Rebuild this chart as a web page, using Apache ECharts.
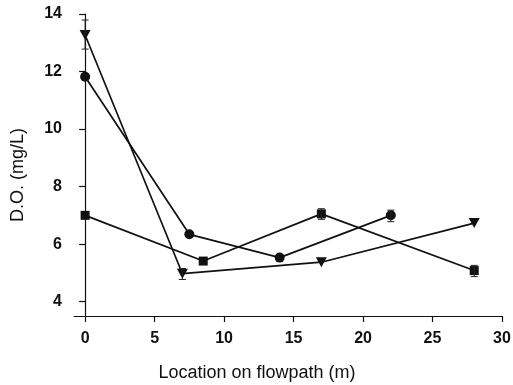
<!DOCTYPE html>
<html><head><meta charset="utf-8">
<script src="https://cdn.jsdelivr.net/npm/echarts@6/dist/echarts.min.js"></script>
<style>html,body{margin:0;padding:0;background:#fff}#c{width:513px;height:385px}</style>
</head><body><div id="c"></div>
<script>
const xTicks = [0, 5, 10, 15, 20, 25, 30];
const yTicks = [4, 6, 8, 10, 12, 14];
const triX = [0, 7, 17, 28];
const triY = [13.27, 4.97, 5.37, 6.73];
const cirX = [0, 7.5, 14, 22];
const cirY = [11.82, 6.34, 5.53, 7.0];
const sqX = [0, 8.5, 17, 28];
const sqY = [7.0, 5.41, 7.05, 5.08];
// error bars: [x, low, high]
const errTri = [[0, 12.78, 13.79], [7, 4.77, 5.15]];
const errCir = [[22, 6.78, 7.18]];
const errSq = [[17, 6.86, 7.23], [28, 4.87, 5.26]];

const zip = (xs, ys) => xs.map((x, i) => [x, ys[i]]);
const ink = '#111';
const font = 'Liberation Sans, Arial, Helvetica, sans-serif';

function errRender(params, api) {
  const x = api.value(0), lo = api.value(1), hi = api.value(2);
  const p1 = api.coord([x, lo]), p2 = api.coord([x, hi]);
  const w = 3.5;
  const st = { stroke: '#222', lineWidth: 1 };
  return { type: 'group', children: [
    { type: 'line', shape: { x1: p1[0], y1: p1[1], x2: p2[0], y2: p2[1] }, style: st },
    { type: 'line', shape: { x1: p1[0] - w, y1: p1[1], x2: p1[0] + w, y2: p1[1] }, style: st },
    { type: 'line', shape: { x1: p2[0] - w, y1: p2[1], x2: p2[0] + w, y2: p2[1] }, style: st }
  ]};
}
function lineSeries(data, symbol, size, rot) {
  return { type: 'line', data, symbol, symbolSize: size, symbolRotate: rot || 0,
    showAllSymbol: true, lineStyle: { color: ink, width: 1.7 },
    itemStyle: { color: ink, borderWidth: 0 }, z: 3 };
}
function errSeries(data) {
  return { type: 'custom', data, renderItem: errRender, encode: { x: 0, y: [1, 2] }, z: 4, silent: true };
}

const chart = echarts.init(document.getElementById('c'));
chart.setOption({
  animation: false,
  backgroundColor: '#fff',
  grid: { left: 74, right: 11, top: 14, bottom: 69, containLabel: false, outerBoundsMode: 'none' },
  xAxis: {
    type: 'value', min: -0.8, max: 30,
    axisLine: { lineStyle: { color: ink, width: 1.2 } },
    axisTick: { customValues: xTicks, length: 6, lineStyle: { color: ink, width: 1.2 } },
    axisLabel: { customValues: xTicks, margin: 15, color: ink, fontSize: 16, fontWeight: 'bold', fontFamily: font },
    splitLine: { show: false },
    name: 'Location on flowpath (m)', nameLocation: 'middle', nameGap: 48,
    nameTextStyle: { color: ink, fontSize: 18, fontFamily: font, padding: [0, 62, 0, 0] }
  },
  yAxis: {
    type: 'value', min: 3.5, max: 14,
    axisLine: { show: true, lineStyle: { color: ink, width: 1.2 } },
    axisTick: { show: true, customValues: yTicks, length: 6, lineStyle: { color: ink, width: 1.2 } },
    axisLabel: { customValues: yTicks, margin: 12, color: ink, fontSize: 16, fontWeight: 'bold', fontFamily: font },
    splitLine: { show: false },
    name: 'D.O. (mg/L)', nameLocation: 'middle', nameGap: 47,
    nameTextStyle: { color: ink, fontSize: 18, fontFamily: font, padding: [0, 20, 0, 0] }
  },
  series: [
    lineSeries(zip(triX, triY), 'triangle', [11, 10], 180),
    lineSeries(zip(cirX, cirY), 'circle', 10),
    lineSeries(zip(sqX, sqY), 'rect', 9),
    errSeries(errTri), errSeries(errCir), errSeries(errSq)
  ]
});
</script></body></html>
